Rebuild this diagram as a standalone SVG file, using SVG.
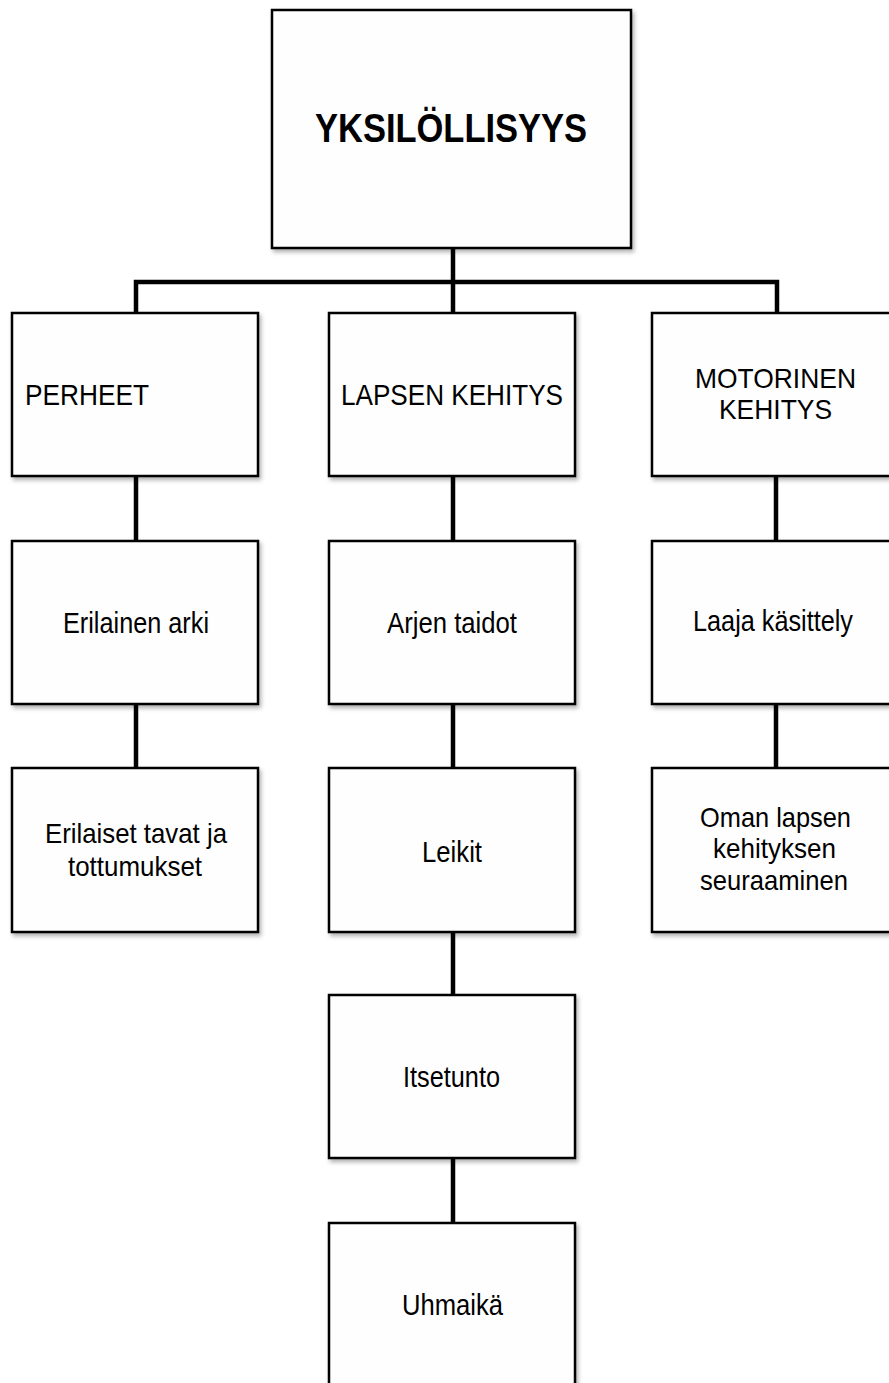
<svg xmlns="http://www.w3.org/2000/svg" width="889" height="1383" viewBox="0 0 889 1383">
<style>
.box{fill:#fefefe;stroke:#000;stroke-width:2.5;filter:url(#sh)}
.t{font-family:"Liberation Sans",Arial,sans-serif;font-size:30px;fill:#000;text-anchor:start}
.m{font-size:28px}
.b{font-weight:bold;font-size:41px}
.c{stroke:#000;stroke-width:4.5;fill:none}
</style>
<defs>
<filter id="sh" x="-5%" y="-5%" width="115%" height="115%">
<feDropShadow dx="2" dy="3" stdDeviation="2" flood-color="#000" flood-opacity="0.3"/>
</filter>
</defs>
<rect width="889" height="1383" fill="#fff"/>
<g id="connectors">
<path class="c" d="M453 248V313M136 313V282H777V313"/>
<path class="c" d="M136 476V541M136 704V768"/>
<path class="c" d="M453 476V541M453 704V768M453 932V995M453 1158V1223"/>
<path class="c" d="M776 476V541M776 704V768"/>
</g>
<g id="n-top"><rect class="box" x="272" y="10" width="359" height="238"/><text class="t b" x="315" y="142" textLength="272" lengthAdjust="spacingAndGlyphs">YKSILÖLLISYYS</text></g>
<g id="n-perheet"><rect class="box" x="12" y="313" width="246" height="163"/><text class="t" x="25" y="405" textLength="124" lengthAdjust="spacingAndGlyphs">PERHEET</text></g>
<g id="n-lapsen"><rect class="box" x="329" y="313" width="246" height="163"/><text class="t" x="341" y="405" textLength="222" lengthAdjust="spacingAndGlyphs">LAPSEN KEHITYS</text></g>
<g id="n-motorinen"><rect class="box" x="652" y="313" width="246" height="163"/><text class="t m" x="695" y="388" textLength="161" lengthAdjust="spacingAndGlyphs">MOTORINEN</text><text class="t m" x="719" y="419" textLength="113" lengthAdjust="spacingAndGlyphs">KEHITYS</text></g>
<g id="n-erilainen"><rect class="box" x="12" y="541" width="246" height="163"/><text class="t" x="63" y="633" textLength="146" lengthAdjust="spacingAndGlyphs">Erilainen arki</text></g>
<g id="n-arjen"><rect class="box" x="329" y="541" width="246" height="163"/><text class="t" x="387" y="633" textLength="130" lengthAdjust="spacingAndGlyphs">Arjen taidot</text></g>
<g id="n-laaja"><rect class="box" x="652" y="541" width="246" height="163"/><text class="t" x="693" y="631" textLength="160" lengthAdjust="spacingAndGlyphs">Laaja käsittely</text></g>
<g id="n-tavat"><rect class="box" x="12" y="768" width="246" height="164"/><text class="t m" x="45" y="843" textLength="182" lengthAdjust="spacingAndGlyphs">Erilaiset tavat ja</text><text class="t m" x="68" y="876" textLength="134" lengthAdjust="spacingAndGlyphs">tottumukset</text></g>
<g id="n-leikit"><rect class="box" x="329" y="768" width="246" height="164"/><text class="t" x="422" y="862" textLength="60" lengthAdjust="spacingAndGlyphs">Leikit</text></g>
<g id="n-oman"><rect class="box" x="652" y="768" width="246" height="164"/><text class="t m" x="700" y="827" textLength="151" lengthAdjust="spacingAndGlyphs">Oman lapsen</text><text class="t m" x="713" y="858" textLength="123" lengthAdjust="spacingAndGlyphs">kehityksen</text><text class="t m" x="700" y="890" textLength="148" lengthAdjust="spacingAndGlyphs">seuraaminen</text></g>
<g id="n-itsetunto"><rect class="box" x="329" y="995" width="246" height="163"/><text class="t" x="403" y="1087" textLength="97" lengthAdjust="spacingAndGlyphs">Itsetunto</text></g>
<g id="n-uhmaika"><rect class="box" x="329" y="1223" width="246" height="175"/><text class="t" x="402" y="1315" textLength="101" lengthAdjust="spacingAndGlyphs">Uhmaikä</text></g>
</svg>
